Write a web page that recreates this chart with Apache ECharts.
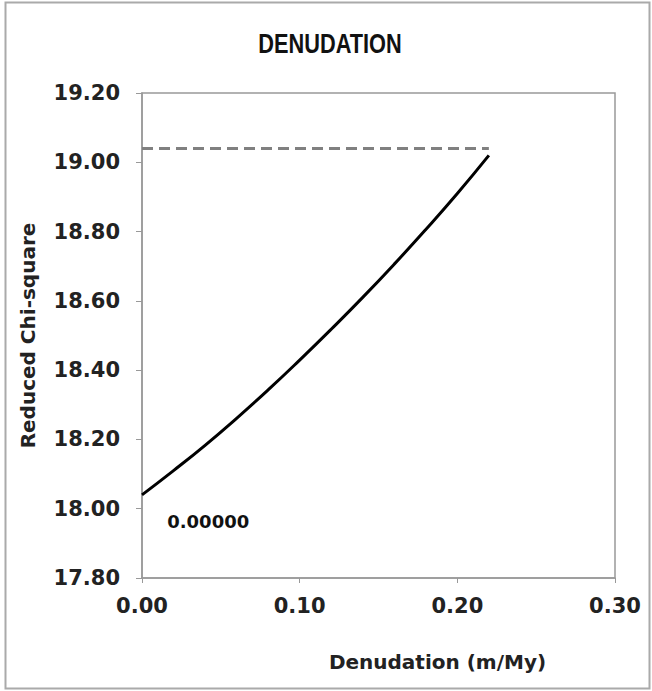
<!DOCTYPE html>
<html>
<head>
<meta charset="utf-8">
<script src="https://cdn.jsdelivr.net/npm/echarts@6/dist/echarts.min.js"></script>
<style>
html,body{margin:0;padding:0;background:#fff;}
#chart{width:652px;height:691px;}
</style>
</head>
<body>
<div id="chart"></div>
<script>
// Data
const titleText = 'DENUDATION';
const xAxisName = 'Denudation (m/My)';
const yAxisName = 'Reduced Chi-square';
const denudation = [0.00, 0.02, 0.04, 0.06, 0.08, 0.10, 0.12, 0.14, 0.16, 0.18, 0.20, 0.22];
const chiSquare = [18.040, 18.110, 18.183, 18.261, 18.343, 18.429, 18.518, 18.610, 18.706, 18.806, 18.910, 19.020];
const limitX = [0.00, 0.22];
const limitY = [19.04, 19.04];
const annotationPos = [0.042, 17.962];
const annotationText = '0.00000';

const curveData = denudation.map((x, i) => [x, chiSquare[i]]);
const limitData = limitX.map((x, i) => [x, limitY[i]]);

const font = 'DejaVu Sans';
const chart = echarts.init(document.getElementById('chart'), null, {renderer: 'svg'});
chart.setOption({
  backgroundColor: '#fff',
  animation: false,
  grid: {left: 142, top: 93, right: 37, bottom: 113, show: true, borderColor: '#999', borderWidth: 1.5},
  xAxis: {
    type: 'value', min: 0, max: 0.3, interval: 0.1,
    name: xAxisName, nameLocation: 'middle', nameGap: 74,
    nameTextStyle: {fontFamily: font, fontWeight: 'bold', fontSize: 20, color: '#222', padding: [0, 0, 0, 118]},
    axisLine: {show: true, lineStyle: {color: '#999', width: 1.5}},
    axisTick: {show: true, inside: false, length: 5, lineStyle: {color: '#999'}},
    axisLabel: {fontFamily: font, fontWeight: 'bold', fontSize: 21, color: '#222', margin: 17, formatter: v => v.toFixed(2)},
    splitLine: {show: false}
  },
  yAxis: {
    type: 'value', min: 17.8, max: 19.2, interval: 0.2,
    name: yAxisName, nameLocation: 'middle', nameGap: 104,
    nameTextStyle: {fontFamily: font, fontWeight: 'bold', fontSize: 20, color: '#222'},
    axisLine: {show: true, lineStyle: {color: '#999', width: 1.5}},
    axisTick: {show: true, inside: false, length: 6, lineStyle: {color: '#999'}},
    axisLabel: {fontFamily: font, fontWeight: 'bold', fontSize: 21, color: '#222', margin: 22, formatter: v => v.toFixed(2)},
    splitLine: {show: false}
  },
  graphic: [
    {
      type: 'rect', shape: {x: 5.5, y: 2.5, width: 644, height: 686},
      style: {fill: 'none', stroke: '#aaa', lineWidth: 2}, silent: true, z: -1
    },
    {
      type: 'text', x: 330, y: 44, scaleX: 0.806, silent: true,
      style: {text: titleText, font: 'bold 27px "Liberation Sans", Arial, sans-serif',
        textAlign: 'center', textVerticalAlign: 'middle', fill: '#111'}
    }
  ],
  series: [
    {
      type: 'line', data: limitData, symbol: 'none',
      lineStyle: {color: '#808080', width: 3, type: [11, 6]}
    },
    {
      type: 'line', data: curveData, symbol: 'none', smooth: true,
      lineStyle: {color: '#000', width: 3}
    },
    {
      type: 'scatter', data: [annotationPos], symbolSize: 0,
      itemStyle: {opacity: 1},
      label: {show: true, position: 'inside', formatter: annotationText,
        fontFamily: font, fontWeight: 'bold', fontSize: 18, color: '#111'}
    }
  ]
});
</script>
</body>
</html>
